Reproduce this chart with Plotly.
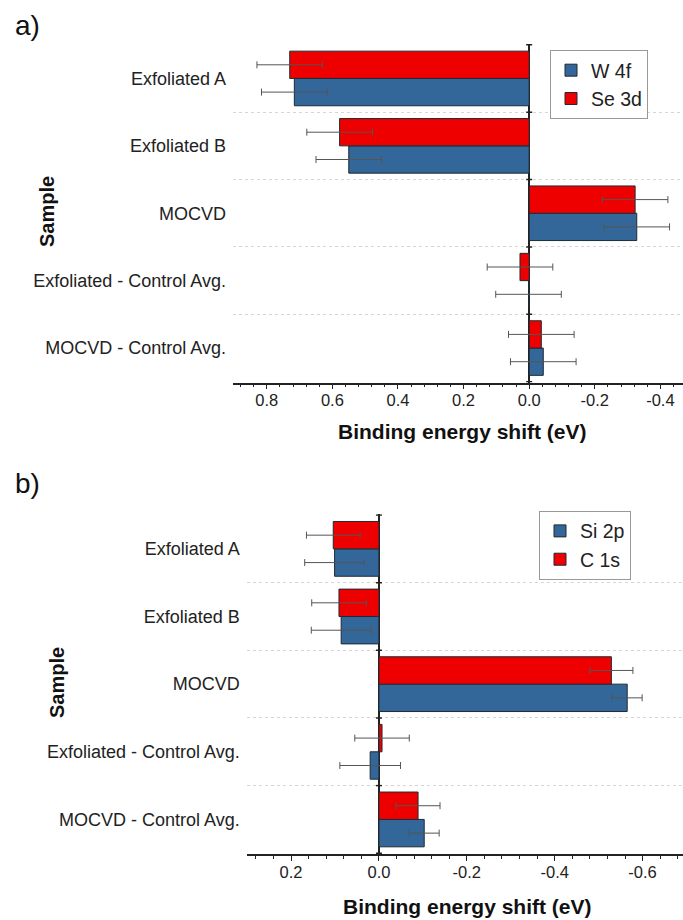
import plotly.graph_objects as go

# ---------------- data ----------------
samples = ["Exfoliated A", "Exfoliated B", "MOCVD",
           "Exfoliated - Control Avg.", "MOCVD - Control Avg."]

# panel a
w4f_shift = [0.716, 0.550, -0.328, 0.002, -0.043]
w4f_err = [0.100, 0.100, 0.100, 0.100, 0.100]
se3d_shift = [0.730, 0.578, -0.323, 0.028, -0.037]
se3d_err = [0.100, 0.100, 0.100, 0.100, 0.100]

# panel b
si2p_shift = [0.101, 0.086, -0.565, 0.020, -0.103]
si2p_err = [0.068, 0.068, 0.034, 0.069, 0.034]
c1s_shift = [0.104, 0.091, -0.529, -0.007, -0.089]
c1s_err = [0.061, 0.062, 0.049, 0.062, 0.050]

ticks_a = [0.8, 0.6, 0.4, 0.2, 0.0, -0.2, -0.4]
ticks_b = [0.2, 0.0, -0.2, -0.4, -0.6]
tick_labels_a = [f"{v:.1f}" for v in ticks_a]
tick_labels_b = [f"{v:.1f}" for v in ticks_b]

BLUE = "#336699"
RED = "#ee0000"
EDGE = "#1f2a33"
ERR = "#555555"
FONT = "Liberation Sans, Arial, sans-serif"

fig = go.Figure()

def add_bar(name, x, err, color, xa, ya, legend):
    fig.add_trace(go.Bar(
        name=name, y=samples, x=x, orientation="h",
        marker=dict(color=color, line=dict(color=EDGE, width=1)),
        error_x=dict(type="data", array=err, color=ERR, thickness=1, width=3.5),
        xaxis=xa, yaxis=ya, legend=legend,
    ))

add_bar("W 4f", w4f_shift, w4f_err, BLUE, "x", "y", "legend")
add_bar("Se 3d", se3d_shift, se3d_err, RED, "x", "y", "legend")
add_bar("Si 2p", si2p_shift, si2p_err, BLUE, "x2", "y2", "legend2")
add_bar("C 1s", c1s_shift, c1s_err, RED, "x2", "y2", "legend2")

W, H = 683, 920

def xaxis_cfg(domain, rng, tv, tt, anchor):
    return dict(
        domain=domain, range=rng, anchor=anchor,
        tickmode="array", tickvals=tv, ticktext=tt,
        ticks="outside", ticklen=5, tickwidth=1, tickcolor="#222",
        minor=dict(tickmode="linear", tick0=0, dtick=0.04, ticks="outside",
                   ticklen=3, tickwidth=1, tickcolor="#222", showgrid=False),
        showline=True, linecolor="#222", linewidth=1.5,
        showgrid=False, zeroline=True, zerolinecolor="#222", zerolinewidth=1.5,
        tickfont=dict(size=16.5, color="#222", family=FONT),
        ticklabelstandoff=-3,
        automargin=False,
    )

def yaxis_cfg(domain, anchor):
    return dict(
        domain=domain, anchor=anchor,
        type="category", categoryorder="array", categoryarray=samples[::-1],
        tickson="boundaries", ticks="", showgrid=True,
        gridcolor="#d6d6d6", griddash="dot", gridwidth=1,
        showline=False, zeroline=False,
        tickfont=dict(size=18, color="#222", family=FONT),
        ticklabelstandoff=6, automargin=False,
    )

legend_common = dict(xanchor="left", yanchor="top",
                     bordercolor="#999", borderwidth=1, bgcolor="white",
                     font=dict(size=19.5, color="#222", family=FONT),
                     tracegroupgap=0, itemwidth=30)

fig.update_layout(
    width=W, height=H,
    margin=dict(l=0, r=0, t=0, b=0),
    paper_bgcolor="white", plot_bgcolor="white",
    font=dict(family=FONT, color="#222"),
    barmode="group", bargap=0.19, bargroupgap=0,
    xaxis=xaxis_cfg([233 / W, 1.0], [0.903, -0.469], ticks_a, tick_labels_a, "y"),
    yaxis=yaxis_cfg([1 - 382.5 / H, 1 - 44 / H], "x"),
    xaxis2=xaxis_cfg([246.7 / W, 1.0], [0.301, -0.692], ticks_b, tick_labels_b, "y2"),
    yaxis2=yaxis_cfg([1 - 854 / H, 1 - 514.3 / H], "x2"),
    legend=dict(x=550 / W, y=1 - 50 / H, **legend_common),
    legend2=dict(x=539 / W, y=1 - 510.7 / H, **legend_common),
    showlegend=True,
)

# small ticks on the zero line at category boundaries
shapes = []
for xr, yr in (("x", "y"), ("x2", "y2")):
    for i in range(len(samples) + 1):
        b = i - 0.5
        shapes.append(dict(type="line", xref=xr, yref=yr, xsizemode="pixel",
                           xanchor=0, x0=-3, x1=3, y0=b, y1=b,
                           line=dict(color="#222", width=1.5)))
fig.update_layout(shapes=shapes)

ann = []
ann.append(dict(text="a)", x=13 / W, y=1 - 25 / H, xref="paper", yref="paper",
                xanchor="left", yanchor="middle", showarrow=False,
                font=dict(size=28, color="#111", family=FONT)))
ann.append(dict(text="b)", x=13 / W, y=1 - 484 / H, xref="paper", yref="paper",
                xanchor="left", yanchor="middle", showarrow=False,
                font=dict(size=28, color="#111", family=FONT)))
for yc, xc in ((212, 47), (683, 57)):
    ann.append(dict(text="<b>Sample</b>", x=xc / W, y=1 - yc / H, xref="paper",
                    yref="paper", xanchor="center", yanchor="middle",
                    textangle=-90, showarrow=False,
                    font=dict(size=20, color="#111", family=FONT)))
for yc, xc in ((432, 462.5), (906.5, 467)):
    ann.append(dict(text="<b>Binding energy shift (eV)</b>", x=xc / W, y=1 - yc / H,
                    xref="paper", yref="paper", xanchor="center", yanchor="middle",
                    showarrow=False, font=dict(size=21, color="#111", family=FONT)))
fig.update_layout(annotations=ann)

fig.write_html("out.html")
